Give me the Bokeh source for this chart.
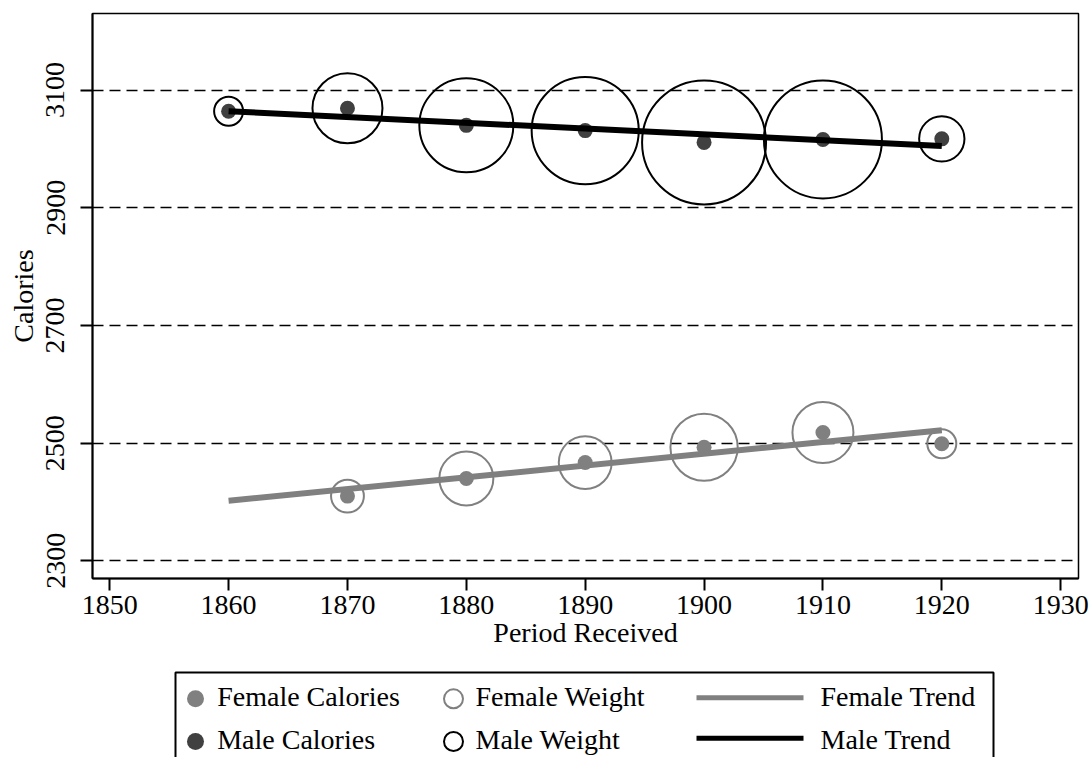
import numpy as np
from bokeh.plotting import figure
from bokeh.models import Range1d, FixedTicker, ColumnDataSource
from bokeh.layouts import column
from bokeh.core.properties import value
from bokeh.embed import file_html
from bokeh.resources import INLINE

# ---------------- data ----------------
male_years = [1860, 1870, 1880, 1890, 1900, 1910, 1920]
male_calories = [3064, 3069, 3040, 3031, 3011, 3016, 3017]
male_weight = [15, 81, 144, 186, 248, 225, 35]

female_years = [1870, 1880, 1890, 1900, 1910, 1920]
female_calories = [2410, 2440, 2467, 2493, 2518, 2499]
female_weight = [19, 49, 47, 75, 62, 15]

trend_years = [1860, 1920]
male_trend = [3064, 3005]
female_trend = [2402, 2522]

x_ticks = [1850, 1860, 1870, 1880, 1890, 1900, 1910, 1920, 1930]
y_ticks = [2300, 2500, 2700, 2900, 3100]

legend_labels = [["Female Calories", "Female Weight", "Female Trend"],
                 ["Male Calories", "Male Weight", "Male Trend"]]

FEMALE = "#808080"
MALE_DOT = "#404040"
FONT = "Liberation Serif"


def wsize(w):
    return [8.0 * np.sqrt(v) - 2 for v in w]


# ---------------- main figure ----------------
p = figure(width=1092, height=668, x_range=Range1d(1848.55, 1931.5),
           y_range=Range1d(2270, 3230), toolbar_location=None,
           output_backend="svg", min_border_left=92, min_border_right=14,
           min_border_top=13, min_border_bottom=90)

p.outline_line_color = "black"
p.outline_line_width = 1.5
p.background_fill_color = "white"
p.border_fill_color = "white"

p.xgrid.visible = False
p.ygrid.grid_line_color = "black"
p.ygrid.grid_line_dash = "11 6"
p.ygrid.grid_line_width = 1.3
p.ygrid.ticker = FixedTicker(ticks=y_ticks)

p.xaxis.ticker = FixedTicker(ticks=x_ticks)
p.yaxis.ticker = FixedTicker(ticks=y_ticks)
p.xaxis.axis_label = "Period Received"
p.yaxis.axis_label = "Calories"
p.yaxis.major_label_orientation = "vertical"
for ax in (p.xaxis, p.yaxis):
    ax.axis_line_width = 2
    ax.axis_line_color = "black"
    ax.major_tick_line_width = 2
    ax.major_tick_line_color = "black"
    ax.major_tick_out = 12
    ax.major_tick_in = 0
    ax.minor_tick_line_color = None
    ax.major_label_text_font = FONT
    ax.major_label_text_font_size = "28px"
    ax.major_label_text_color = "black"
    ax.axis_label_text_font = FONT
    ax.axis_label_text_font_size = "28px"
    ax.axis_label_text_font_style = "normal"
    ax.axis_label_text_color = "black"
p.xaxis.major_label_standoff = 5
p.xaxis.axis_label_standoff = 0
p.yaxis.major_label_standoff = 16
p.yaxis.axis_label_standoff = 5

msrc = ColumnDataSource(dict(x=male_years, y=male_calories, s=wsize(male_weight)))
fsrc = ColumnDataSource(dict(x=female_years, y=female_calories, s=wsize(female_weight)))

p.scatter("x", "y", size="s", source=fsrc, marker="circle", fill_color=None,
          line_color=FEMALE, line_width=2)
p.scatter("x", "y", size="s", source=msrc, marker="circle", fill_color=None,
          line_color="black", line_width=2)
p.scatter("x", "y", size=15, source=fsrc, marker="circle", fill_color=FEMALE,
          line_color=None)
p.scatter("x", "y", size=15, source=msrc, marker="circle", fill_color=MALE_DOT,
          line_color=None)
p.line(trend_years, female_trend, line_color=FEMALE, line_width=6, line_cap="butt")
p.line(trend_years, male_trend, line_color="black", line_width=6, line_cap="butt")

# ---------------- legend panel (frame aligned with the main frame) ----------------
lg = figure(width=1092, height=89, x_range=Range1d(92, 1078), y_range=Range1d(89, 0),
            toolbar_location=None, output_backend="svg", x_axis_type=None,
            y_axis_type=None, min_border_left=92, min_border_right=14,
            min_border_top=0, min_border_bottom=0)
lg.outline_line_color = None
lg.grid.visible = False
lg.background_fill_color = "white"
lg.border_fill_color = "white"

lg.quad(left=[175], right=[993], top=[4], bottom=[140], fill_color=None,
        line_color="black", line_width=2)
row_marker_y = [30.3, 73]
row_line_y = [29.3, 69.7]
row_text_y = [27.5, 71.3]
lg.scatter([195, 195], row_marker_y, size=17, marker="circle",
           fill_color=[FEMALE, MALE_DOT], line_color=None)
lg.scatter([453, 453], row_marker_y, size=19, marker="circle", fill_color=None,
           line_color=[FEMALE, "black"], line_width=2)
lg.segment(x0=[696, 696], x1=[803, 803], y0=row_line_y, y1=row_line_y,
           line_color=[FEMALE, "black"], line_width=5, line_cap="butt")
tx, ty, tt = [], [], []
col_x = [216.7, 475, 820]
for r in range(2):
    for c in range(3):
        tx.append(col_x[c])
        ty.append(row_text_y[r])
        tt.append(legend_labels[r][c])
lg.text(x=tx, y=ty, text=tt, text_font=value(FONT), text_font_size="28px",
        text_baseline="alphabetic", text_align="left", text_color="black")

layout = column(p, lg, spacing=0)
open("out.html", "w").write(file_html(layout, INLINE))
